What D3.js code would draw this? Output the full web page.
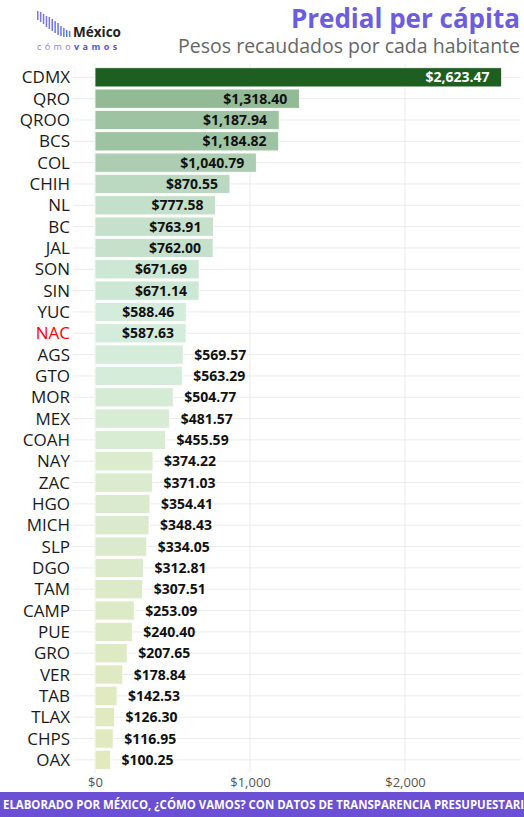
<!DOCTYPE html>
<html>
<head>
<meta charset="utf-8">
<script src="https://cdn.jsdelivr.net/npm/d3@7"></script>
<style>
  html, body { margin: 0; padding: 0; background: #fff; }
  svg { display: block; font-family: "Open Sans", "Noto Sans", sans-serif; }
</style>
</head>
<body>
<svg id="chart" width="524" height="817"></svg>
<script>
const states = ["CDMX","QRO","QROO","BCS","COL","CHIH","NL","BC","JAL","SON","SIN","YUC","NAC","AGS","GTO","MOR","MEX","COAH","NAY","ZAC","HGO","MICH","SLP","DGO","TAM","CAMP","PUE","GRO","VER","TAB","TLAX","CHPS","OAX"];
const values = [2623.47,1318.40,1187.94,1184.82,1040.79,870.55,777.58,763.91,762.00,671.69,671.14,588.46,587.63,569.57,563.29,504.77,481.57,455.59,374.22,371.03,354.41,348.43,334.05,312.81,307.51,253.09,240.40,207.65,178.84,142.53,126.30,116.95,100.25];
const xTicks = [0, 1000, 2000];
const titleText = "Predial per cápita";
const subtitleText = "Pesos recaudados por cada habitante";
const footerText = "ELABORADO POR MÉXICO, ¿CÓMO VAMOS? CON DATOS DE TRANSPARENCIA PRESUPUESTARIA";

const data = states.map((s, i) => ({ state: s, value: values[i] }));
const svg = d3.select("#chart");
const W = 524, H = 817;

const x = d3.scaleLinear().domain([0, 2750]).range([95, 95 + 2750 * 0.155]);
const y = d3.scaleBand().domain(states).range([65.6, 771.6]).padding(0.1);
const fill = d3.scaleLinear().domain([100, 600, 1320]).range(["#e1e9bd", "#d4ecdc", "#92ba95"]).clamp(true);
const fmt = d3.format("$,.2f");

// gridlines
const grid = svg.append("g");
grid.selectAll("line.h").data(states).join("line")
  .attr("x1", 73).attr("x2", 521)
  .attr("y1", d => y(d) + y.bandwidth() / 2).attr("y2", d => y(d) + y.bandwidth() / 2)
  .attr("stroke", "#ebebeb").attr("stroke-width", 1);
grid.selectAll("line.v").data(xTicks).join("line")
  .attr("x1", d => x(d)).attr("x2", d => x(d))
  .attr("y1", 64).attr("y2", 773)
  .attr("stroke", "#ebebeb").attr("stroke-width", 1);

// bars
svg.append("g").selectAll("rect").data(data).join("rect")
  .attr("x", x(0))
  .attr("y", d => y(d.state))
  .attr("width", d => x(d.value) - x(0))
  .attr("height", y.bandwidth())
  .attr("fill", d => d.state === "CDMX" ? "#1e5e20" : fill(d.value))
  .attr("stroke", "#ffffff").attr("stroke-width", 0.8);

// value labels
svg.append("g").selectAll("text").data(data).join("text")
  .attr("x", d => d.value >= 587 ? x(d.value) - 12 : x(d.value) + 11)
  .attr("y", d => y(d.state) + y.bandwidth() / 2)
  .attr("dy", "0.36em")
  .attr("text-anchor", d => d.value >= 587 ? "end" : "start")
  .attr("font-size", 14).attr("font-weight", 700)
  .attr("fill", d => d.state === "CDMX" ? "#ffffff" : "#111111")
  .text(d => fmt(d.value));

// y axis labels
svg.append("g").selectAll("text").data(states).join("text")
  .attr("x", 70)
  .attr("y", d => y(d) + y.bandwidth() / 2)
  .attr("dy", "0.36em")
  .attr("text-anchor", "end")
  .attr("font-size", 17)
  .attr("fill", d => d === "NAC" ? "#ff0000" : "#1a1a1a")
  .text(d => d);

// x axis
const xAxis = d3.axisBottom(x).tickValues(xTicks).tickFormat(d3.format("$,")).tickSize(0).tickPadding(0);
const gx = svg.append("g").attr("transform", "translate(0,778)").call(xAxis);
gx.select(".domain").remove();
gx.selectAll("text").attr("font-size", 13).attr("fill", "#555").attr("font-family", "Open Sans, sans-serif");

// title
svg.append("text").attr("x", 520).attr("y", 28).attr("text-anchor", "end")
  .attr("font-size", 26).attr("font-weight", 700).attr("fill", "#6c5ce0").text(titleText);
svg.append("text").attr("x", 520).attr("y", 53).attr("text-anchor", "end")
  .attr("font-size", 19.5).attr("fill", "#666").text(subtitleText);

// logo
const logo = svg.append("g");
const barTop = [11, 12, 14, 16, 17, 19, 21, 23, 26, 28, 30, 31];
const barBot = [20, 22, 24, 27, 29, 31, 33, 35, 36, 37, 37, 37];
const logoColor = d3.scaleLinear().domain([0, barTop.length - 1]).range(["#8373ea", "#5a7be0"]);
barTop.forEach((t, i) => {
  logo.append("rect").attr("x", 37 + i * 2.9).attr("y", t)
    .attr("width", 1.5).attr("height", barBot[i] - t).attr("fill", logoColor(i));
});
logo.append("text").attr("x", 73).attr("y", 37).attr("font-size", 13.5).attr("font-weight", 700)
  .attr("fill", "#222").text("México");
const cv = logo.append("text").attr("x", 37).attr("y", 50).attr("font-size", 9).attr("letter-spacing", 3.4);
cv.append("tspan").attr("fill", "#8a7ce8").text("cómo");
cv.append("tspan").attr("fill", "#5a55d6").attr("font-weight", 700).text("vamos");

// footer
svg.append("rect").attr("x", 0).attr("y", 792).attr("width", W).attr("height", 25).attr("fill", "#6b4fd5");
svg.append("text").attr("x", 3).attr("y", 809).attr("font-size", 12.5).attr("font-weight", 700)
  .attr("textLength", 529).attr("lengthAdjust", "spacingAndGlyphs")
  .attr("fill", "#fff").text(footerText);
</script>
</body>
</html>
